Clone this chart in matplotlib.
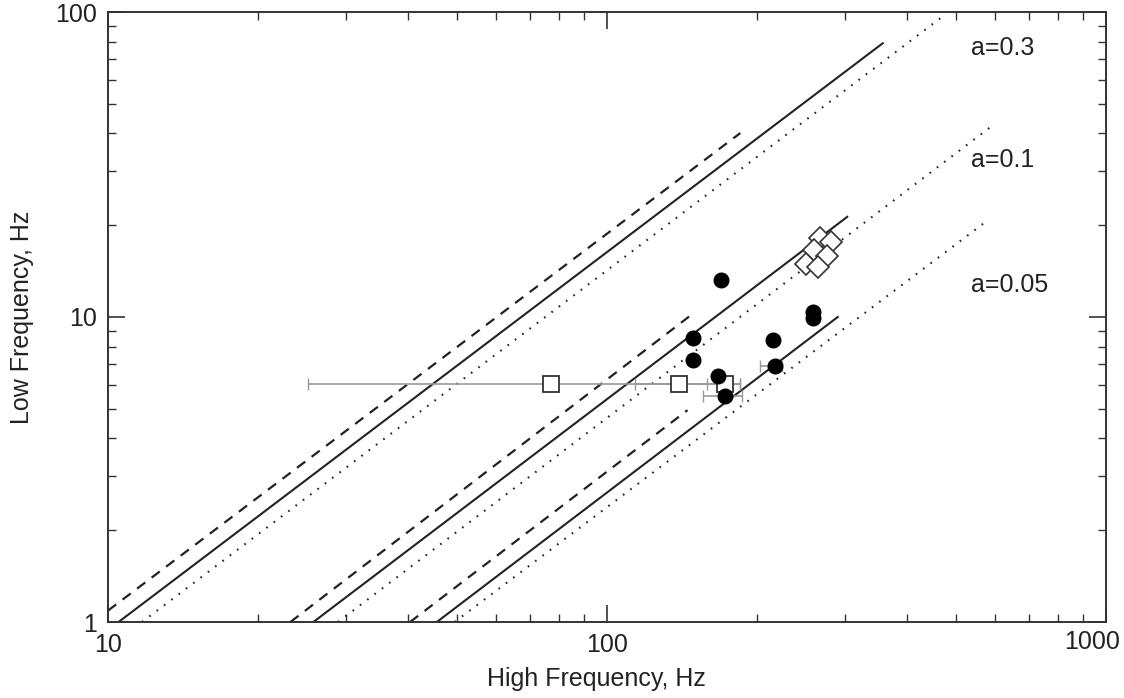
import matplotlib
matplotlib.use("Agg")
import matplotlib.pyplot as plt
from matplotlib.ticker import LogLocator, NullFormatter

plt.rcParams['font.family'] = ['Liberation Sans', 'DejaVu Sans']

# Model lines (start / end points in data coords), three groups a=0.3, 0.1, 0.05
line_styles = ["--", "-", ":"] * 3
line_x0 = [10.0, 10.5, 11.7, 23.2, 25.8, 28.9, 40.3, 45.6, 49.5]
line_y0 = [1.09, 1.0, 1.0, 1.0, 1.0, 1.0, 1.0, 1.0, 1.0]
line_x1 = [185.0, 357.0, 475.0, 148.0, 303.0, 594.0, 145.0, 290.0, 567.0]
line_y1 = [40.1, 79.0, 97.8, 10.2, 21.3, 42.6, 4.95, 10.0, 20.2]

label_text = ["a=0.3", "a=0.1", "a=0.05"]
label_x = [536, 536, 536]
label_y = [76.0, 32.7, 12.7]

# Filled circles
circ_x = [169.3, 148.7, 148.7, 258.7, 258.7, 215.1, 217.1, 166.9, 172.4]
circ_y = [13.2, 8.53, 7.23, 10.4, 9.92, 8.41, 6.91, 6.41, 5.51]
circ_xlo = [None, None, None, None, None, None, 202.6, None, 155.7]
circ_xhi = [None, None, None, None, None, None, 224.2, None, 186.4]

# Open squares with horizontal error bars
sq_x = [77.2, 139.4, 172.4]
sq_y = [6.03, 6.03, 6.03]
sq_xlo = [25.2, 113.8, 158.7]
sq_xhi = [184.7, 168.5, 184.7]

# Open diamonds
dia_x = [267.3, 281.1, 259.9, 276.0, 250.5, 264.8]
dia_y = [18.15, 17.6, 16.6, 15.85, 14.9, 14.6]

x_ticks = [10, 100, 1000]
x_ticklabels = ["10", "100", "1000"]
y_ticks = [1, 10, 100]
y_ticklabels = ["1", "10", "100"]

W, H = 1124, 698
fig = plt.figure(figsize=(W / 100, H / 100), dpi=100)
ax = fig.add_axes([108 / W, 1 - 622 / H, (1106 - 108) / W, (622 - 12) / H])
ax.set_xscale('log')
ax.set_yscale('log')
ax.set_xlim(10, 1000)
ax.set_ylim(1, 100)

ink = '#222222'
for ls, x0, y0, x1, y1 in zip(line_styles, line_x0, line_y0, line_x1, line_y1):
    if ls == ":":
        ax.plot([x0, x1], [y0, y1], color=ink, lw=1.5, linestyle=(0, (0.8, 3.6)))
    elif ls == "--":
        ax.plot([x0, x1], [y0, y1], color=ink, lw=1.6, linestyle=(0, (4.6, 3.6)))
    else:
        ax.plot([x0, x1], [y0, y1], color=ink, lw=1.5)

# error bars (gray)
for x, y, lo, hi in zip(sq_x, sq_y, sq_xlo, sq_xhi):
    ax.errorbar([x], [y], xerr=[[x - lo], [hi - x]], fmt='none', ecolor='#999999',
                elinewidth=1.2, capsize=4, capthick=1.0, zorder=2)
for x, y, lo, hi in zip(circ_x, circ_y, circ_xlo, circ_xhi):
    if lo is not None:
        ax.errorbar([x], [y], xerr=[[x - lo], [hi - x]], fmt='none', ecolor='#999999',
                    elinewidth=1.2, capsize=4, capthick=1.0, zorder=2)

ax.plot(sq_x, sq_y, 's', ms=11, mfc='white', mec='#333333', mew=1.3, zorder=3)
ax.plot(dia_x, dia_y, 'D', ms=11, mfc='white', mec='#333333', mew=1.2, zorder=3)
ax.plot(circ_x, circ_y, 'o', ms=10.5, mfc='black', mec='black', zorder=4)

for t, x, y in zip(label_text, label_x, label_y):
    ax.text(x, y, t, fontsize=18, ha='left', va='center', color=ink)

ax.set_xticks(x_ticks)
ax.set_xticklabels(x_ticklabels[:-1] + [""])
ax.set_yticks(y_ticks)
ax.set_yticklabels(y_ticklabels)
ax.xaxis.set_minor_locator(LogLocator(base=10, subs=range(2, 10)))
ax.yaxis.set_minor_locator(LogLocator(base=10, subs=range(2, 10)))
ax.xaxis.set_minor_formatter(NullFormatter())
ax.yaxis.set_minor_formatter(NullFormatter())
ax.tick_params(which='both', direction='in', top=True, right=True, color='#333333',
               labelsize=18, labelcolor=ink)
ax.tick_params(which='major', length=12, width=1.2, pad=8)
ax.tick_params(which='minor', length=6, width=1.0)
for s in ax.spines.values():
    s.set_linewidth(1.4)
    s.set_color('#333333')

# last x tick label shifted left so it stays inside the figure, as in the reference
fig.text(1092 / W, 1 - 642 / H, x_ticklabels[-1], fontsize=18, ha='center', va='center', color=ink)

ax.set_xlabel("High Frequency, Hz", fontsize=18, color=ink)
ax.xaxis.set_label_coords(0.489, -0.074)
ax.set_ylabel("Low Frequency, Hz", fontsize=18, color=ink)
ax.yaxis.set_label_coords(-0.074, 0.5)

fig.savefig("out.png", dpi=100)
